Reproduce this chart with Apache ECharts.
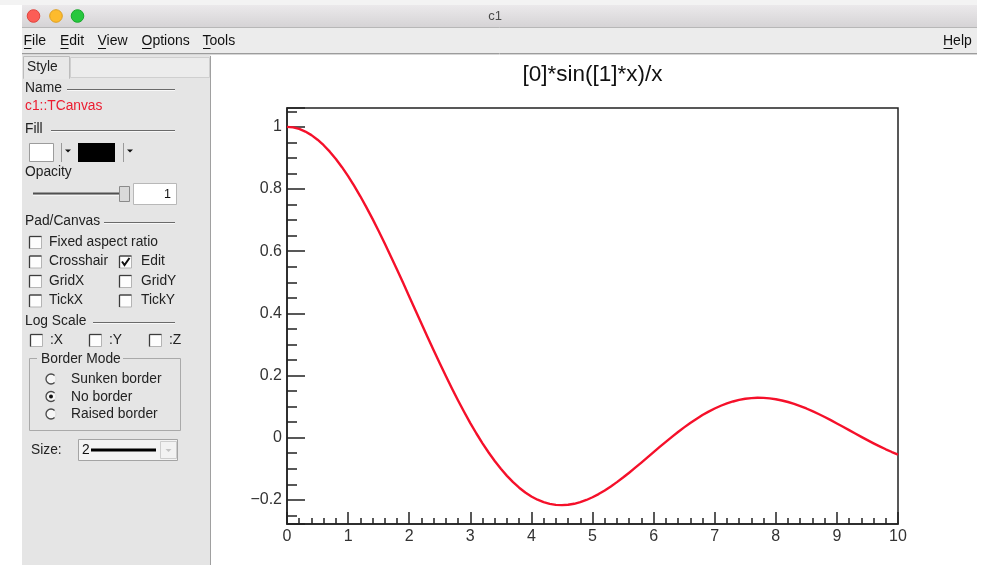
<!DOCTYPE html>
<html>
<head>
<meta charset="utf-8">
<script src="https://cdn.jsdelivr.net/npm/echarts@6/dist/echarts.min.js"></script>
<style>
  html, body { margin: 0; padding: 0; background: #fff; }
  #c1 { width: 987px; height: 565px; }
</style>
</head>
<body>
<div id="c1"></div>
<script>
// Function samples of [0]*sin([1]*x)/x on [0, 10], step 0.1
const xValues = [0, 0.1, 0.2, 0.3, 0.4, 0.5, 0.6, 0.7, 0.8, 0.9,
  1, 1.1, 1.2, 1.3, 1.4, 1.5, 1.6, 1.7, 1.8, 1.9,
  2, 2.1, 2.2, 2.3, 2.4, 2.5, 2.6, 2.7, 2.8, 2.9,
  3, 3.1, 3.2, 3.3, 3.4, 3.5, 3.6, 3.7, 3.8, 3.9,
  4, 4.1, 4.2, 4.3, 4.4, 4.5, 4.6, 4.7, 4.8, 4.9,
  5, 5.1, 5.2, 5.3, 5.4, 5.5, 5.6, 5.7, 5.8, 5.9,
  6, 6.1, 6.2, 6.3, 6.4, 6.5, 6.6, 6.7, 6.8, 6.9,
  7, 7.1, 7.2, 7.3, 7.4, 7.5, 7.6, 7.7, 7.8, 7.9,
  8, 8.1, 8.2, 8.3, 8.4, 8.5, 8.6, 8.7, 8.8, 8.9,
  9, 9.1, 9.2, 9.3, 9.4, 9.5, 9.6, 9.7, 9.8, 9.9, 10];
const yValues = [1, 0.9983, 0.9934, 0.9851, 0.9735, 0.9589, 0.9411, 0.9203, 0.8967, 0.8704,
  0.8415, 0.8102, 0.7767, 0.7412, 0.7039, 0.6650, 0.6247, 0.5833, 0.5410, 0.4981,
  0.4546, 0.4111, 0.3675, 0.3242, 0.2814, 0.2394, 0.1983, 0.1583, 0.1196, 0.0825,
  0.0470, 0.0134, -0.0182, -0.0478, -0.0752, -0.1002, -0.1229, -0.1432, -0.1610, -0.1764,
  -0.1892, -0.1996, -0.2075, -0.2131, -0.2163, -0.2172, -0.2160, -0.2128, -0.2075, -0.2005,
  -0.1918, -0.1815, -0.1699, -0.1570, -0.1431, -0.1283, -0.1127, -0.0966, -0.0801, -0.0634,
  -0.0466, -0.0299, -0.0134, 0.0027, 0.0182, 0.0331, 0.0472, 0.0604, 0.0727, 0.0838,
  0.0939, 0.1027, 0.1102, 0.1165, 0.1215, 0.1251, 0.1274, 0.1283, 0.1280, 0.1264,
  0.1237, 0.1197, 0.1147, 0.1087, 0.1017, 0.0939, 0.0854, 0.0762, 0.0665, 0.0563,
  0.0458, 0.0351, 0.0242, 0.0134, 0.0026, -0.0079, -0.0182, -0.0280, -0.0374, -0.0462, -0.0544];

const chartTitle = '[0]*sin([1]*x)/x';
const xRange = [0, 10];
const yRange = [-0.2778, 1.0608];
const xMajorStep = 1;
const yMajorStep = 0.2;

// Editor panel texts
const menuItems = ['File', 'Edit', 'View', 'Options', 'Tools'];
const checkRows = [['Crosshair', 'Edit'], ['GridX', 'GridY'], ['TickX', 'TickY']];
const logAxes = [':X', ':Y', ':Z'];
const borderModes = ['Sunken border', 'No border', 'Raised border'];

const FONT = '"Liberation Sans", Arial, Helvetica, sans-serif';
const PANEL_FS = 13.8;
const els = [];

function rect(x, y, w, h, fill, stroke, lw) {
  els.push({ type: 'rect', silent: true, shape: { x, y, width: w, height: h },
    style: { fill: fill || 'none', stroke: stroke || null, lineWidth: lw || 1 } });
}
function line(x1, y1, x2, y2, color, lw) {
  els.push({ type: 'line', silent: true, shape: { x1, y1, x2, y2 },
    style: { stroke: color, lineWidth: lw || 1 } });
}
function text(x, y, t, size, color, align) {
  els.push({ type: 'text', silent: true, x, y,
    style: { text: t, font: size + 'px ' + FONT, fill: color || '#222',
      align: align || 'left', textAlign: align || 'left',
      verticalAlign: 'middle', textVerticalAlign: 'middle' } });
}
function tri(x, y, color) {
  els.push({ type: 'polygon', silent: true, shape: { points: [[x, y], [x + 6, y], [x + 3, y + 3]] },
    style: { fill: color } });
}
function checkbox(x, y, checked) {
  rect(x + 0.5, y + 0.5, 12, 12, '#fdfdfd', '#b4b4b4');
  line(x + 0.5, y + 0.5, x + 12.5, y + 0.5, '#3c3c3c', 1.3);
  line(x + 0.5, y + 0.5, x + 0.5, y + 12.5, '#3c3c3c', 1.3);
  if (checked) {
    els.push({ type: 'polyline', silent: true,
      shape: { points: [[x + 3, y + 6], [x + 5.5, y + 9.5], [x + 10.5, y + 2.5]] },
      style: { stroke: '#111', lineWidth: 2, fill: null } });
  }
}
function radio(cx, cy, selected) {
  els.push({ type: 'circle', silent: true, shape: { cx, cy, r: 5 },
    style: { fill: '#f6f6f6', stroke: '#dadada', lineWidth: 1 } });
  els.push({ type: 'arc', silent: true,
    shape: { cx, cy, r: 5, startAngle: Math.PI / 4, endAngle: Math.PI * 7 / 4, clockwise: true },
    style: { stroke: '#4a4a4a', lineWidth: 1.3, fill: null } });
  if (selected) {
    els.push({ type: 'circle', silent: true, shape: { cx, cy, r: 2 }, style: { fill: '#111' } });
  }
}
function section(y, label, lineStart) {
  text(25, y, label, PANEL_FS, '#222');
  line(lineStart, y + 1.5, 175, y + 1.5, '#6a6a6a', 1);
  line(lineStart, y + 2.5, 175, y + 2.5, '#f8f8f8', 1);
}

// Window frame: title bar
rect(0, 0, 977, 5, '#f3f3f3');
rect(22, 5, 955, 22.5, new echarts.graphic.LinearGradient(0, 0, 0, 1, [
  { offset: 0, color: '#ebe9eb' }, { offset: 1, color: '#d5d3d5' }]));
line(22, 27.5, 977, 27.5, '#b7b7b7');
els.push({ type: 'circle', silent: true, shape: { cx: 33.5, cy: 16, r: 6.3 }, style: { fill: '#fc5d56', stroke: '#df4640' } });
els.push({ type: 'circle', silent: true, shape: { cx: 56, cy: 16, r: 6.3 }, style: { fill: '#fdbb2d', stroke: '#dd9f22' } });
els.push({ type: 'circle', silent: true, shape: { cx: 77.5, cy: 16, r: 6.3 }, style: { fill: '#27c73e', stroke: '#1aa92e' } });
text(495, 16.5, 'c1', 13, '#4a4a4a', 'center');

// Menu bar
rect(22, 28, 955, 25, '#ececec');
const menuX = [23.5, 60, 97.5, 141.5, 202.5];
const underlineW = [8, 8.5, 8.5, 10, 8];
menuItems.forEach((m, i) => {
  text(menuX[i], 41.5, m, 14, '#111');
  line(menuX[i] + 0.5, 48.5, menuX[i] + underlineW[i], 48.5, '#111', 1);
});
text(943, 41.5, 'Help', 14, '#111');
line(943.5, 48.5, 952.5, 48.5, '#111', 1);
line(22, 53.5, 977, 53.5, '#9c9c9c', 1);
line(22, 54.5, 977, 54.5, '#d6d6d6', 1);

// Editor side panel
rect(22, 55, 188.5, 510, '#e5e5e5');
line(210.5, 56, 210.5, 565, '#a0a0a0', 1);
rect(70.5, 57.5, 139, 20, '#ececec', '#cfcfcf');
rect(23.5, 56.5, 46, 22, '#e8e8e8', '#bcbcbc');
line(24, 78.5, 69, 78.5, '#e8e8e8', 1);
text(27, 67.5, 'Style', PANEL_FS, '#222');

section(88, 'Name', 67);
text(25, 106.5, 'c1::TCanvas', PANEL_FS, '#ec1c30');
section(129, 'Fill', 51);

rect(29.5, 143.5, 24, 18, '#ffffff', '#9c9c9c');
line(61.5, 143, 61.5, 162, '#9a9a9a', 1);
tri(65, 149.5, '#111');
rect(78, 143, 37, 19, '#000000');
line(123.5, 143, 123.5, 162, '#9a9a9a', 1);
tri(127, 149.5, '#111');

text(25, 172, 'Opacity', PANEL_FS, '#222');
line(33, 193.5, 121, 193.5, '#505050', 2);
line(33, 195.5, 121, 195.5, '#f5f5f5', 1);
rect(119.5, 186.5, 10, 15, '#d9d9d9', '#8a8a8a');
rect(133.5, 183.5, 43, 21, '#ffffff', '#b8b8b8');
text(171, 194.5, '1', 12.5, '#111', 'right');

section(221, 'Pad/Canvas', 104);
checkbox(29, 236, false);
text(49, 242.5, 'Fixed aspect ratio', PANEL_FS, '#222');
checkRows.forEach((row, i) => {
  const y = 261.5 + i * 19.5;
  checkbox(29, y - 6, false);
  text(49, y, row[0], PANEL_FS, '#222');
  checkbox(119, y - 6, row[1] === 'Edit');
  text(141, y, row[1], PANEL_FS, '#222');
});

section(321, 'Log Scale', 93);
const logBoxX = [30, 89, 149];
logAxes.forEach((a, i) => {
  checkbox(logBoxX[i], 334, false);
  text(logBoxX[i] + 20, 340.5, a, PANEL_FS, '#222');
});

rect(29.5, 358.5, 151, 72, null, '#a9a9a9');
rect(37, 350, 86, 17, '#e5e5e5');
text(41, 359, 'Border Mode', PANEL_FS, '#222');
borderModes.forEach((b, i) => {
  const y = 379 + i * 17.5;
  radio(51, y, b === 'No border');
  text(71, y + 0.5, b, PANEL_FS, '#222');
});

text(31, 450, 'Size:', PANEL_FS, '#222');
rect(78.5, 439.5, 99, 21, '#f3f3f3', '#a4a4a4');
text(82, 450.5, '2', PANEL_FS, '#111');
line(91, 450, 156, 450, '#000', 3);
rect(160.5, 441.5, 16, 17, '#f2f2f2', '#cdcdcd');
tri(165.5, 449, '#c4c4c4');

// Canvas title
text(592.5, 75, chartTitle, 22.5, '#111', 'center');

const yTickLabel = v => {
  const k = v / yMajorStep;
  if (Math.abs(k - Math.round(k)) > 1e-6) return '';
  const r = Math.round(v * 10) / 10;
  return String(r).replace('-', '\u2212');
};

const axisColor = '#222';
const option = {
  animation: false,
  backgroundColor: '#ffffff',
  graphic: { elements: els },
  grid: {
    left: 287, right: 89, top: 108, bottom: 41,
    show: true, borderColor: axisColor, borderWidth: 1.5,
    containLabel: false, outerBoundsMode: 'none'
  },
  xAxis: {
    type: 'value', min: xRange[0], max: xRange[1], interval: xMajorStep,
    axisLine: { onZero: false, lineStyle: { color: axisColor, width: 1.5 } },
    axisTick: { inside: true, length: 12, lineStyle: { color: axisColor, width: 1.5 } },
    minorTick: { show: true, splitNumber: 5, length: 6, lineStyle: { color: axisColor, width: 1.5 } },
    axisLabel: { margin: 5, fontSize: 16, color: '#333', fontFamily: FONT },
    splitLine: { show: false }
  },
  yAxis: {
    type: 'value', min: yRange[0], max: yRange[1],
    minInterval: yMajorStep, maxInterval: yMajorStep, splitNumber: 6,
    axisLine: { onZero: false, lineStyle: { color: axisColor, width: 1.5 } },
    axisTick: { inside: true, length: 18, lineStyle: { color: axisColor, width: 1.5 } },
    minorTick: { show: true, splitNumber: 4, length: 10, lineStyle: { color: axisColor, width: 1.5 } },
    axisLabel: { margin: 5, fontSize: 16, color: '#333', fontFamily: FONT,
      showMinLabel: false, showMaxLabel: false, formatter: yTickLabel },
    splitLine: { show: false }
  },
  series: [{
    type: 'line',
    data: xValues.map((x, i) => [x, yValues[i]]),
    showSymbol: false,
    smooth: false,
    silent: true,
    lineStyle: { color: '#f5102a', width: 2.4, join: 'round' }
  }]
};

const chart = echarts.init(document.getElementById('c1'), null, { renderer: 'canvas' });
chart.setOption(option);
</script>
</body>
</html>
